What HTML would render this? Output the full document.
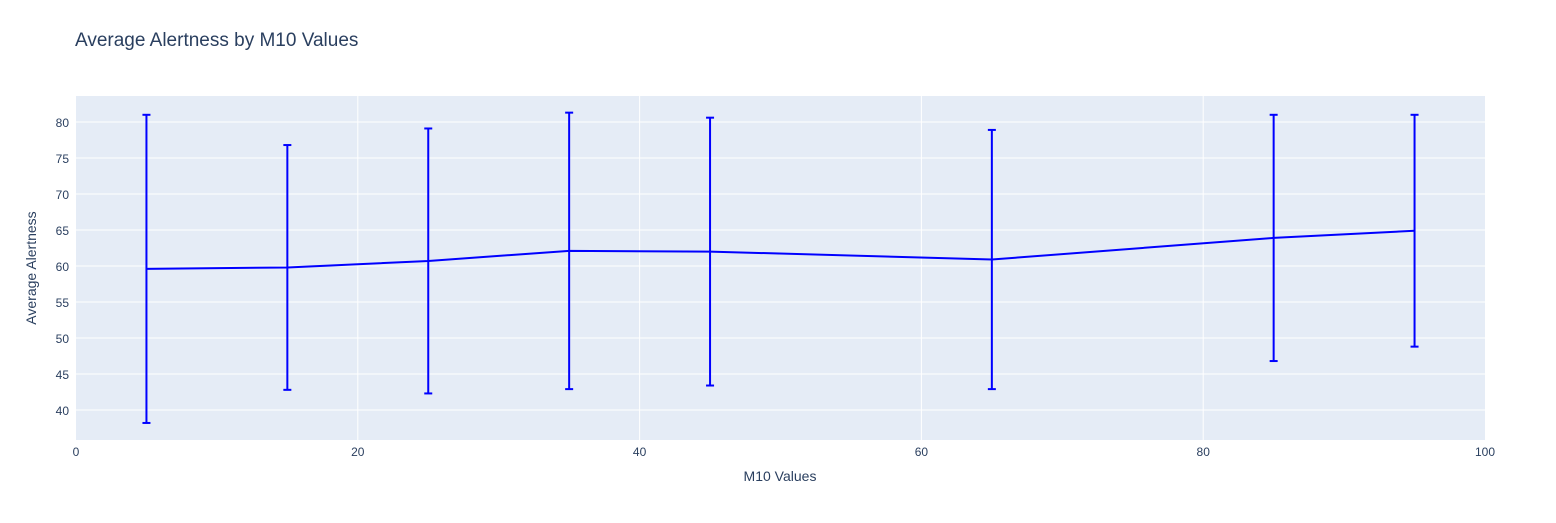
<!DOCTYPE html>
<html><head><meta charset="utf-8"><style>
body{margin:0;background:#fff;font-family:"Liberation Sans",Arial,sans-serif;}
svg text{font-family:"Liberation Sans",Arial,sans-serif;fill:#2a3f5f;}
</style></head><body>
<svg id="chart" width="1556" height="518">
<text x="75" y="46" font-size="19">Average Alertness by M10 Values</text>
<rect x="76" y="96" width="1409" height="344" fill="#e5ecf6"/>
<g id="grid"></g><g id="marks"></g>
<text x="780" y="481" font-size="14" text-anchor="middle">M10 Values</text>
<text transform="translate(36,268) rotate(-90)" font-size="14" text-anchor="middle">Average Alertness</text>
</svg>
<script>
const xs=[5,15,25,35,45,65,85,95];
const means=[59.6,59.8,60.7,62.1,62.0,60.9,63.9,64.9];
const errs=[21.4,17.0,18.4,19.2,18.6,18.0,17.1,16.1];
const xTicks=[0,20,40,60,80,100];
const yTicks=[40,45,50,55,60,65,70,75,80];
const NS="http://www.w3.org/2000/svg";
const X=v=>76+v*14.09;
const Y=v=>410-(v-40)*7.2;
const grid=document.getElementById('grid'),marks=document.getElementById('marks');
function mk(tag,attrs,parent){const e=document.createElementNS(NS,tag);for(const k in attrs)e.setAttribute(k,attrs[k]);parent.appendChild(e);return e;}
xTicks.forEach(t=>{
 if(t>0&&t<100){const l=mk('line',{x1:X(t),x2:X(t),y1:96,y2:440,stroke:'#fff','stroke-width':1},grid);
 
 }
 const tx=mk('text',{x:X(t),y:456,'font-size':12,'text-anchor':'middle'},grid);tx.textContent=t;
 
 
});
yTicks.forEach(t=>{
 const l=mk('line',{x1:76,x2:1485,y1:Y(t),y2:Y(t),stroke:'#fff','stroke-width':1},grid);
 
 
 const tx=mk('text',{x:69,y:Y(t)+5,'font-size':12,'text-anchor':'end'},grid);tx.textContent=t;
 
 
});
const line=mk('polyline',{points:xs.map((x,i)=>X(x)+','+Y(means[i])).join(' '),fill:'none',stroke:'#0000ff','stroke-width':2},marks);


xs.forEach((x,i)=>{
 const g=mk('g',{stroke:'#0000ff','stroke-width':2},marks);
 
 
 const t=Y(means[i]+errs[i]),b=Y(means[i]-errs[i]);
 mk('line',{x1:X(x),x2:X(x),y1:t,y2:b},g);
 mk('line',{x1:X(x)-4,x2:X(x)+4,y1:t,y2:t},g);
 mk('line',{x1:X(x)-4,x2:X(x)+4,y1:b,y2:b},g);
});
</script>
</body></html>
